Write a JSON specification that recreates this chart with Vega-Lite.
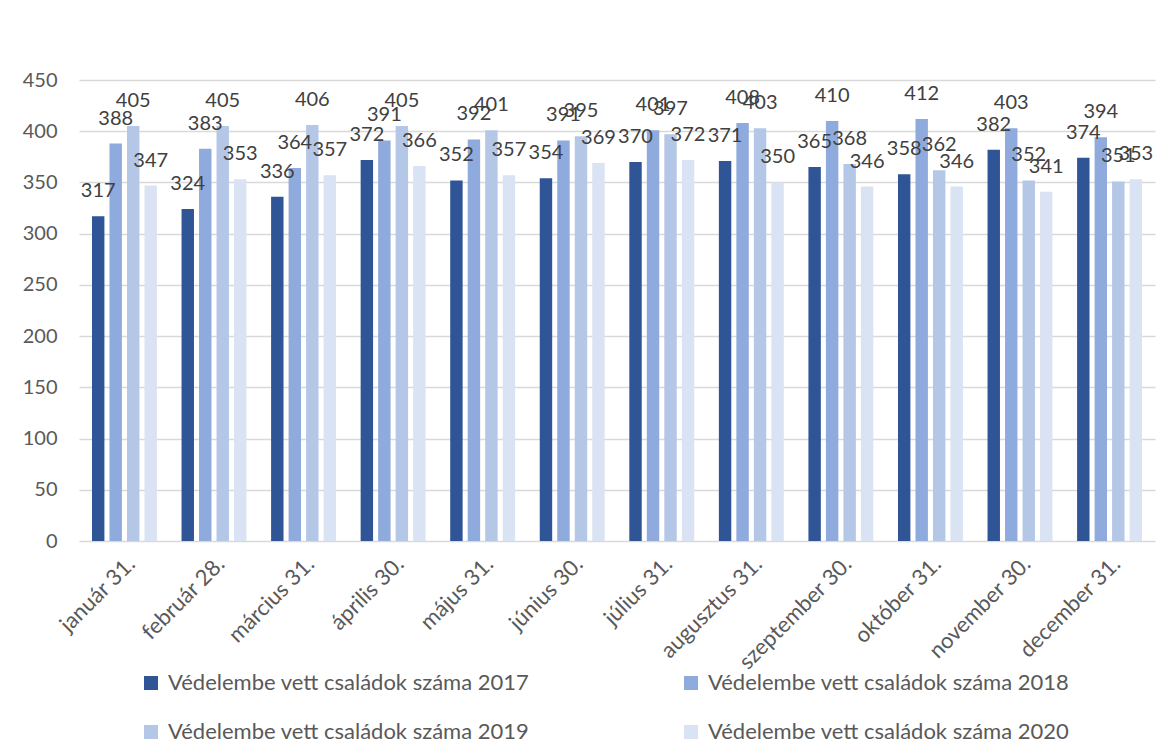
{
  "$schema": "https://vega.github.io/schema/vega-lite/v6.json",
  "autosize": "none",
  "padding": {"left": 79, "top": 80, "right": 12, "bottom": 208},
  "width": 1076,
  "height": 461,
  "background": "white",
  "config": {"font": "Lato", "view": {"stroke": null}},
  "data": {"values": [
    {"month": "január 31.", "series": "Védelembe vett családok száma 2017", "value": 317},
    {"month": "január 31.", "series": "Védelembe vett családok száma 2018", "value": 388},
    {"month": "január 31.", "series": "Védelembe vett családok száma 2019", "value": 405},
    {"month": "január 31.", "series": "Védelembe vett családok száma 2020", "value": 347},
    {"month": "február 28.", "series": "Védelembe vett családok száma 2017", "value": 324},
    {"month": "február 28.", "series": "Védelembe vett családok száma 2018", "value": 383},
    {"month": "február 28.", "series": "Védelembe vett családok száma 2019", "value": 405},
    {"month": "február 28.", "series": "Védelembe vett családok száma 2020", "value": 353},
    {"month": "március 31.", "series": "Védelembe vett családok száma 2017", "value": 336},
    {"month": "március 31.", "series": "Védelembe vett családok száma 2018", "value": 364},
    {"month": "március 31.", "series": "Védelembe vett családok száma 2019", "value": 406},
    {"month": "március 31.", "series": "Védelembe vett családok száma 2020", "value": 357},
    {"month": "április 30.", "series": "Védelembe vett családok száma 2017", "value": 372},
    {"month": "április 30.", "series": "Védelembe vett családok száma 2018", "value": 391},
    {"month": "április 30.", "series": "Védelembe vett családok száma 2019", "value": 405},
    {"month": "április 30.", "series": "Védelembe vett családok száma 2020", "value": 366},
    {"month": "május 31.", "series": "Védelembe vett családok száma 2017", "value": 352},
    {"month": "május 31.", "series": "Védelembe vett családok száma 2018", "value": 392},
    {"month": "május 31.", "series": "Védelembe vett családok száma 2019", "value": 401},
    {"month": "május 31.", "series": "Védelembe vett családok száma 2020", "value": 357},
    {"month": "június 30.", "series": "Védelembe vett családok száma 2017", "value": 354},
    {"month": "június 30.", "series": "Védelembe vett családok száma 2018", "value": 391},
    {"month": "június 30.", "series": "Védelembe vett családok száma 2019", "value": 395},
    {"month": "június 30.", "series": "Védelembe vett családok száma 2020", "value": 369},
    {"month": "július 31.", "series": "Védelembe vett családok száma 2017", "value": 370},
    {"month": "július 31.", "series": "Védelembe vett családok száma 2018", "value": 401},
    {"month": "július 31.", "series": "Védelembe vett családok száma 2019", "value": 397},
    {"month": "július 31.", "series": "Védelembe vett családok száma 2020", "value": 372},
    {"month": "augusztus 31.", "series": "Védelembe vett családok száma 2017", "value": 371},
    {"month": "augusztus 31.", "series": "Védelembe vett családok száma 2018", "value": 408},
    {"month": "augusztus 31.", "series": "Védelembe vett családok száma 2019", "value": 403},
    {"month": "augusztus 31.", "series": "Védelembe vett családok száma 2020", "value": 350},
    {"month": "szeptember 30.", "series": "Védelembe vett családok száma 2017", "value": 365},
    {"month": "szeptember 30.", "series": "Védelembe vett családok száma 2018", "value": 410},
    {"month": "szeptember 30.", "series": "Védelembe vett családok száma 2019", "value": 368},
    {"month": "szeptember 30.", "series": "Védelembe vett családok száma 2020", "value": 346},
    {"month": "október 31.", "series": "Védelembe vett családok száma 2017", "value": 358},
    {"month": "október 31.", "series": "Védelembe vett családok száma 2018", "value": 412},
    {"month": "október 31.", "series": "Védelembe vett családok száma 2019", "value": 362},
    {"month": "október 31.", "series": "Védelembe vett családok száma 2020", "value": 346},
    {"month": "november 30.", "series": "Védelembe vett családok száma 2017", "value": 382},
    {"month": "november 30.", "series": "Védelembe vett családok száma 2018", "value": 403},
    {"month": "november 30.", "series": "Védelembe vett családok száma 2019", "value": 352},
    {"month": "november 30.", "series": "Védelembe vett családok száma 2020", "value": 341},
    {"month": "december 31.", "series": "Védelembe vett családok száma 2017", "value": 374},
    {"month": "december 31.", "series": "Védelembe vett családok száma 2018", "value": 394},
    {"month": "december 31.", "series": "Védelembe vett családok száma 2019", "value": 351},
    {"month": "december 31.", "series": "Védelembe vett családok száma 2020", "value": 353}
  ]},
  "encoding": {
    "x": {
      "field": "month", "type": "nominal", "sort": null,
      "scale": {"paddingInner": 0.275, "paddingOuter": 0.145},
      "axis": {"title": null, "labelAngle": -45, "labelAlign": "right", "labelBaseline": "top", "labelFontSize": 22, "labelColor": "#595959", "ticks": false, "domain": false, "labelPadding": 12, "labelDx": 0}
    },
    "xOffset": {
      "field": "series", "type": "nominal",
      "scale": {"paddingInner": 0.29, "paddingOuter": 0}
    },
    "y": {
      "field": "value", "type": "quantitative",
      "scale": {"domain": [0, 450], "nice": false},
      "axis": {"title": null, "values": [0, 50, 100, 150, 200, 250, 300, 350, 400, 450], "labelFontSize": 20, "labelColor": "#595959", "ticks": false, "domain": false, "gridColor": "#D9D9D9", "gridWidth": 1.5, "labelPadding": 22}
    }
  },
  "layer": [
    {
      "mark": {"type": "bar"},
      "encoding": {
        "color": {
          "field": "series", "type": "nominal",
          "scale": {"range": ["#2F5597", "#8FAADC", "#B4C7E7", "#DAE3F3"]},
          "legend": {
            "title": null, "orient": "none", "legendX": 61, "legendY": 592,
            "direction": "horizontal", "columns": 2, "columnPadding": 150, "rowPadding": 27,
            "symbolType": "square", "symbolSize": 196, "symbolStrokeWidth": 0,
            "labelFontSize": 22, "labelColor": "#595959", "labelLimit": 600, "labelOffset": 6
          }
        }
      }
    },
    {
      "mark": {"type": "text", "fontSize": 20, "color": "#404040", "baseline": "middle", "dy": -25},
      "encoding": {"text": {"field": "value", "type": "quantitative"}}
    }
  ]
}
